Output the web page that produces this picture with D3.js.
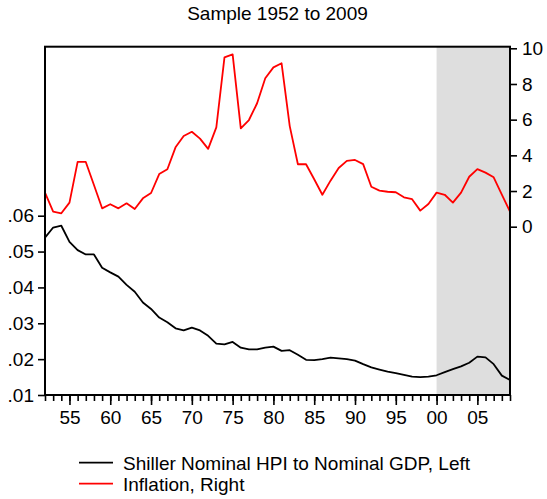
<!DOCTYPE html>
<html>
<head>
<meta charset="utf-8">
<script src="https://cdn.jsdelivr.net/npm/d3@7"></script>
<style>
  html, body { margin: 0; padding: 0; background: #fff; }
  svg text { font-family: "Liberation Sans", Arial, Helvetica, sans-serif; fill: #000; }
</style>
</head>
<body>
<svg id="chart" width="547" height="499"></svg>
<script>
// ---- data ----
const years = d3.range(1952, 2010);
const hpiToGdp = [
  0.0539, 0.0567, 0.0572, 0.0527, 0.0504, 0.0492, 0.0492, 0.0455, 0.0442, 0.0430,
  0.0407, 0.0388, 0.0358, 0.0340, 0.0316, 0.0303, 0.0286, 0.0280, 0.0288, 0.0280,
  0.0265, 0.0243, 0.0241, 0.0248, 0.0232, 0.0227, 0.0227, 0.0232, 0.0235, 0.0223,
  0.0225, 0.0212, 0.0198, 0.0197, 0.0200, 0.0204, 0.0202, 0.0200, 0.0196, 0.0186,
  0.0177, 0.0171, 0.0165, 0.0161, 0.0156, 0.0151, 0.0150, 0.0151, 0.0155, 0.0164,
  0.0172, 0.0180, 0.0190, 0.0207, 0.0205, 0.0186, 0.0154, 0.0142
];
const inflation = [
  1.91, 0.84, 0.75, 1.35, 3.63, 3.63, 2.34, 1.03, 1.26, 1.03,
  1.31, 0.99, 1.59, 1.89, 2.95, 3.22, 4.45, 5.08, 5.32, 4.94,
  4.36, 5.57, 9.49, 9.66, 5.51, 5.98, 6.92, 8.32, 8.93, 9.16,
  5.64, 3.50, 3.50, 2.66, 1.79, 2.58, 3.29, 3.69, 3.74, 3.51,
  2.24, 2.02, 1.96, 1.93, 1.65, 1.54, 0.90, 1.27, 1.91, 1.79,
  1.35, 1.91, 2.80, 3.23, 3.03, 2.77, 1.80, 0.84
];
const leftTicks = [0.01, 0.02, 0.03, 0.04, 0.05, 0.06];
const leftTickLabels = [".01", ".02", ".03", ".04", ".05", ".06"];
const rightTicks = [0, 2, 4, 6, 8, 10];
const xMajorTicks = [1955, 1960, 1965, 1970, 1975, 1980, 1985, 1990, 1995, 2000, 2005];
const xTickLabels = ["55", "60", "65", "70", "75", "80", "85", "90", "95", "00", "05"];
const shadeRange = [2000, 2009];
const title = "Sample 1952 to 2009";
const seriesNames = ["Shiller Nominal HPI to Nominal GDP, Left", "Inflation, Right"];
const seriesColors = ["#000000", "#ff0000"];

// ---- layout ----
const svg = d3.select("#chart");
const L = 45, R = 510, T = 46.7, B = 395;
const FS = 19;

const x = d3.scaleLinear().domain([1952, 2009]).range([L, R]);
const yL = d3.scaleLinear().domain([0.01, 0.06]).range([B, 215.7]);
const yR = d3.scaleLinear().domain([0, 10]).range([226.7, 48.3]);

// shading
svg.append("rect")
  .attr("x", x(shadeRange[0])).attr("y", T)
  .attr("width", x(shadeRange[1]) - x(shadeRange[0]))
  .attr("height", B - T)
  .attr("fill", "#dedede");

// lines
const lineL = d3.line().x((d, i) => x(years[i])).y(d => yL(d));
const lineR = d3.line().x((d, i) => x(years[i])).y(d => yR(d));

svg.append("path").datum(hpiToGdp)
  .attr("d", lineL).attr("fill", "none")
  .attr("stroke", seriesColors[0]).attr("stroke-width", 1.8)
  .attr("stroke-linejoin", "round");
svg.append("path").datum(inflation)
  .attr("d", lineR).attr("fill", "none")
  .attr("stroke", seriesColors[1]).attr("stroke-width", 1.8)
  .attr("stroke-linejoin", "round");

// frame
svg.append("rect")
  .attr("x", L).attr("y", T).attr("width", R - L).attr("height", B - T)
  .attr("fill", "none").attr("stroke", "#000").attr("stroke-width", 2);

// bottom axis: minor ticks every year, major every 5
const xAxisMinor = d3.axisBottom(x).tickValues(years).tickSize(6).tickFormat("");
const gxm = svg.append("g").attr("transform", `translate(0,${B})`).call(xAxisMinor);
const xAxisMajor = d3.axisBottom(x).tickValues(xMajorTicks).tickSize(10)
  .tickFormat((d, i) => xTickLabels[i]).tickPadding(6);
const gx = svg.append("g").attr("transform", `translate(0,${B})`).call(xAxisMajor);

// left axis
const yAxisL = d3.axisLeft(yL).tickValues(leftTicks).tickSize(7).tickPadding(4)
  .tickFormat((d, i) => leftTickLabels[i]);
const gyl = svg.append("g").attr("transform", `translate(${L},0)`).call(yAxisL);

// right axis
const yAxisR = d3.axisRight(yR).tickValues(rightTicks).tickSize(7).tickPadding(5)
  .tickFormat(d3.format("d"));
const gyr = svg.append("g").attr("transform", `translate(${R},0)`).call(yAxisR);

[gxm, gx, gyl, gyr].forEach(g => {
  g.select(".domain").remove();
  g.selectAll(".tick line").attr("stroke", "#000").attr("stroke-width", 1.6);
  g.selectAll("text").attr("font-size", FS)
    .style("font-family", '"Liberation Sans", Arial, Helvetica, sans-serif')
    .attr("fill", "#000");
});

// title
svg.append("text")
  .attr("x", (L + R) / 2).attr("y", 20)
  .attr("text-anchor", "middle").attr("font-size", FS)
  .text(title);

// legend
const legY = [462.7, 483.7];
seriesNames.forEach((name, i) => {
  svg.append("line")
    .attr("x1", 79).attr("x2", 113)
    .attr("y1", legY[i]).attr("y2", legY[i])
    .attr("stroke", seriesColors[i]).attr("stroke-width", 1.8);
  svg.append("text")
    .attr("x", 123).attr("y", legY[i]).attr("dy", "0.36em")
    .attr("font-size", FS).text(name);
});
</script>
</body>
</html>
